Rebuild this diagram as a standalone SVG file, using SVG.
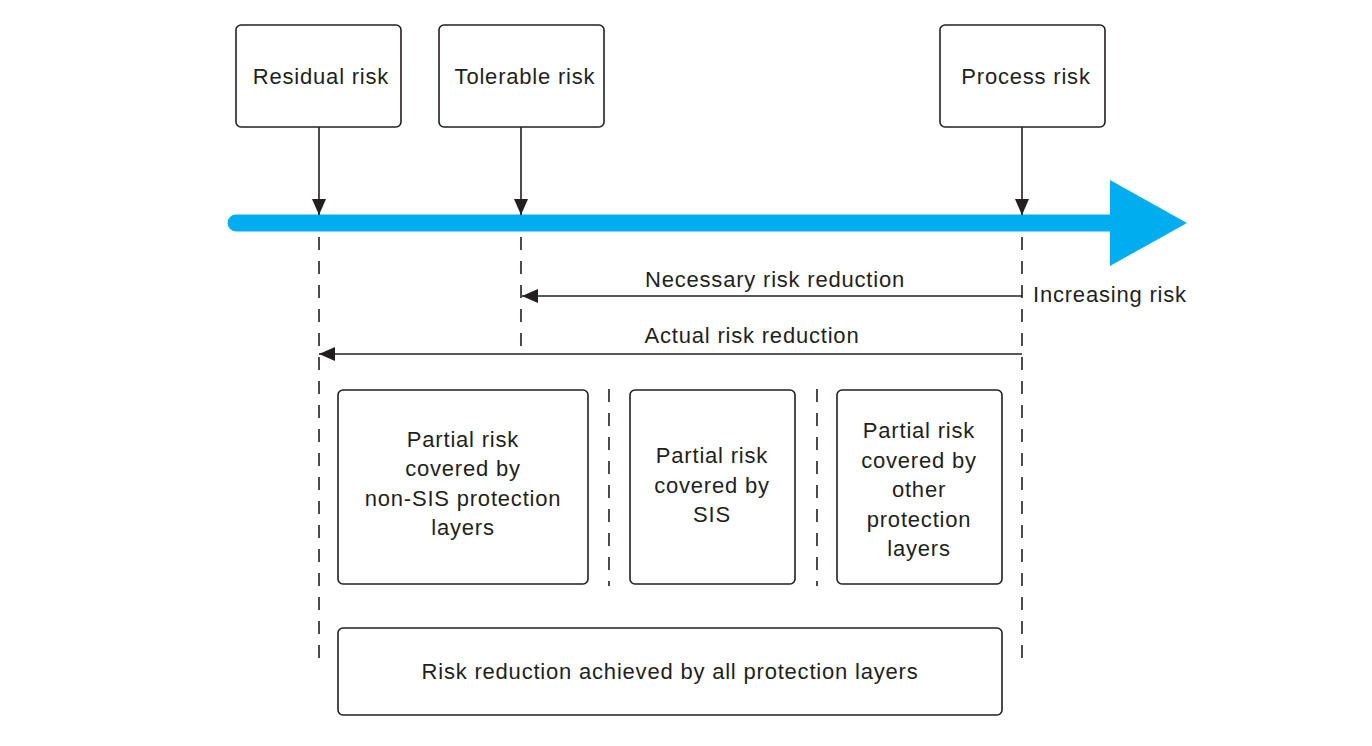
<svg xmlns="http://www.w3.org/2000/svg" width="1372" height="746" viewBox="0 0 1372 746">
<defs>
<style>
.box{fill:#fff;stroke:#231f20;stroke-width:1.6}
.t{font-family:"Liberation Sans",Arial,sans-serif;font-size:22px;letter-spacing:0.8px;fill:#231f20;text-anchor:middle}
.ln{stroke:#231f20;stroke-width:1.6;fill:none}
.dash{stroke:#231f20;stroke-width:1.6;fill:none;stroke-dasharray:13 11}
</style>
<marker id="ah" viewBox="0 0 16 14" refX="16" refY="7" markerWidth="16" markerHeight="14" markerUnits="userSpaceOnUse" orient="auto">
<path d="M0,0 L16,7 L0,14 Z" fill="#231f20"/>
</marker>
</defs>
<rect width="1372" height="746" fill="#fff"/>
<g id="axis">
<line x1="236" y1="223" x2="1115" y2="223" stroke="#00aeef" stroke-width="17" stroke-linecap="round"/>
<path d="M1110,180 L1187,223 L1110,266 Z" fill="#00aeef"/>
<text class="t" x="1033" y="302" style="text-anchor:start">Increasing risk</text>
</g>
<g id="connectors">
<line class="ln" x1="319" y1="127" x2="319" y2="215" marker-end="url(#ah)"/>
<line class="ln" x1="521" y1="127" x2="521" y2="215" marker-end="url(#ah)"/>
<line class="ln" x1="1022" y1="127" x2="1022" y2="215" marker-end="url(#ah)"/>
<line class="dash" x1="319" y1="237" x2="319" y2="664"/>
<line class="dash" x1="521" y1="237" x2="521" y2="354"/>
<line class="dash" x1="1022" y1="237" x2="1022" y2="664"/>
<line class="dash" x1="609" y1="389" x2="609" y2="586"/>
<line class="dash" x1="817" y1="389" x2="817" y2="586"/>
<line class="ln" x1="1022" y1="296" x2="522" y2="296" marker-end="url(#ah)"/>
<line class="ln" x1="1022" y1="354" x2="319" y2="354" marker-end="url(#ah)"/>
<text class="t" x="775" y="287">Necessary risk reduction</text>
<text class="t" x="752" y="343">Actual risk reduction</text>
</g>
<g id="residual">
<rect class="box" x="236" y="25" width="165" height="102" rx="5"/>
<text class="t" x="321" y="84">Residual risk</text>
</g>
<g id="tolerable">
<rect class="box" x="439" y="25" width="165" height="102" rx="5"/>
<text class="t" x="525" y="84">Tolerable risk</text>
</g>
<g id="process">
<rect class="box" x="940" y="25" width="165" height="102" rx="5"/>
<text class="t" x="1026" y="84">Process risk</text>
</g>
<g id="nonsis">
<rect class="box" x="338" y="390" width="250" height="194" rx="5"/>
<text class="t" x="463" y="447">Partial risk</text>
<text class="t" x="463" y="476">covered by</text>
<text class="t" x="463" y="506">non-SIS protection</text>
<text class="t" x="463" y="535">layers</text>
</g>
<g id="sis">
<rect class="box" x="630" y="390" width="165" height="194" rx="5"/>
<text class="t" x="712" y="463">Partial risk</text>
<text class="t" x="712" y="493">covered by</text>
<text class="t" x="712" y="522">SIS</text>
</g>
<g id="other">
<rect class="box" x="837" y="390" width="165" height="194" rx="5"/>
<text class="t" x="919" y="438">Partial risk</text>
<text class="t" x="919" y="468">covered by</text>
<text class="t" x="919" y="497">other</text>
<text class="t" x="919" y="527">protection</text>
<text class="t" x="919" y="556">layers</text>
</g>
<g id="all">
<rect class="box" x="338" y="628" width="664" height="87" rx="5"/>
<text class="t" x="670" y="679">Risk reduction achieved by all protection layers</text>
</g>
</svg>
